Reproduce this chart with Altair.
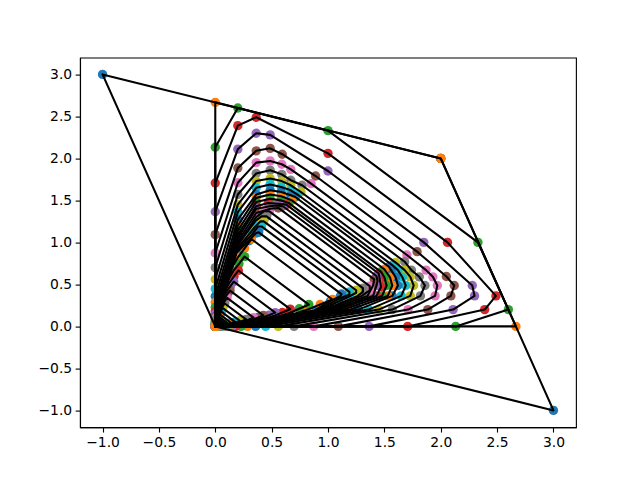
import altair as alt
import pandas as pd

# Each entry is one polygon's upper arm, from the y axis out to the tip.
# The polygons are mirror images across y = x, and each one closes through the origin.
upper_arms = [
    [(-1, 3), (2, 2)],
    [(0, 2.667), (2, 2)],
    [(0, 2.133), (0.2, 2.6), (1, 2.33)],
    [(0, 1.707), (0.2, 2.39), (0.363, 2.49), (1, 2.06)],
    [(0, 1.365), (0.2, 2.11), (0.363, 2.30), (0.487, 2.28), (1, 1.85)],
    [(0, 1.092), (0.2, 1.885), (0.363, 2.09), (0.487, 2.12), (0.594, 2.05), (0.89, 1.79)],
    [(0, 0.874), (0.2, 1.71), (0.363, 1.95), (0.487, 1.97), (0.59, 1.93), (0.67, 1.87), (0.85, 1.70)],
    [(0, 0.699), (0.2, 1.57), (0.363, 1.82), (0.487, 1.86), (0.59, 1.81), (0.67, 1.74), (0.77, 1.68)],
    [(0, 0.559), (0.2, 1.45), (0.363, 1.73), (0.487, 1.76), (0.59, 1.73), (0.67, 1.68), (0.76, 1.60)],
    [(0, 0.447), (0.2, 1.36), (0.363, 1.65), (0.487, 1.69), (0.585, 1.66), (0.67, 1.62), (0.73, 1.57)],
    [(0, 0.358), (0.2, 1.27), (0.363, 1.57), (0.487, 1.62), (0.585, 1.60), (0.67, 1.56), (0.71, 1.54)],
    [(0, 0.286), (0.2, 1.20), (0.363, 1.53), (0.487, 1.57), (0.585, 1.55), (0.68, 1.50)],
    [(0, 0.229), (0.2, 1.14), (0.363, 1.48), (0.487, 1.52), (0.585, 1.50), (0.65, 1.47)],
    [(0, 0.183), (0.2, 1.09), (0.363, 1.43), (0.47, 1.47), (0.56, 1.46), (0.63, 1.45)],
    [(0, 0.147), (0.2, 1.05), (0.363, 1.40), (0.487, 1.43), (0.54, 1.44), (0.60, 1.43)],
    [(0, 0.117), (0.2, 1.01), (0.363, 1.35), (0.487, 1.40), (0.56, 1.41)],
    [(0, 0.094), (0.2, 0.98), (0.363, 1.30), (0.43, 1.37), (0.48, 1.37)],
    [(0, 0.075), (0.19, 0.95), (0.36, 1.26), (0.41, 1.31), (0.455, 1.31)],
    [(0, 0.060), (0.19, 0.92), (0.35, 1.18), (0.40, 1.25), (0.43, 1.25)],
    [(0, 0.048), (0.19, 0.90), (0.33, 1.10), (0.38, 1.19), (0.41, 1.19)],
    [(0, 0.038), (0.19, 0.88), (0.30, 1.02), (0.36, 1.11), (0.385, 1.12)],
    [(0, 0.031), (0.13, 0.66), (0.2, 0.82), (0.26, 0.93), (0.32, 1.04)],
    [(0, 0.025), (0.104, 0.53), (0.16, 0.66), (0.21, 0.745), (0.26, 0.83)],
    [(0, 0.020), (0.083, 0.42), (0.128, 0.525), (0.166, 0.595), (0.205, 0.665)],
    [(0, 0.016), (0.067, 0.34), (0.102, 0.42), (0.133, 0.476), (0.164, 0.532)],
    [(0, 0.013), (0.053, 0.27), (0.082, 0.336), (0.106, 0.38), (0.131, 0.426)],
    [(0, 0.010), (0.043, 0.216), (0.066, 0.27), (0.085, 0.305), (0.105, 0.34)],
    [(0, 0.008), (0.034, 0.173), (0.052, 0.215), (0.068, 0.244), (0.084, 0.273)],
    [(0, 0.006), (0.027, 0.138), (0.042, 0.172), (0.055, 0.195), (0.067, 0.218)],
    [(0, 0.005), (0.022, 0.11), (0.034, 0.138), (0.044, 0.156), (0.054, 0.175)],
    [(0, 0.004), (0.018, 0.088), (0.027, 0.11), (0.035, 0.125), (0.043, 0.14)],
    [(0, 0.003), (0.016, 0.077), (0.027, 0.093), (0.036, 0.11)],
    [(0, 0.003), (0.013, 0.062), (0.021, 0.075), (0.029, 0.088)],
    [(0, 0.002), (0.010, 0.05), (0.017, 0.06), (0.023, 0.07)],
    [(0, 0.002), (0.008, 0.04), (0.014, 0.048), (0.018, 0.056)],
    [(0, 0.001), (0.007, 0.032), (0.011, 0.038), (0.015, 0.045)],
    [(0, 0.001), (0.005, 0.026), (0.009, 0.031), (0.012, 0.036)],
    [(0, 0.001), (0.004, 0.02), (0.007, 0.025), (0.01, 0.029)],
    [(0, 0.001), (0.003, 0.016), (0.006, 0.02), (0.008, 0.023)],
    [(0, 0.001), (0.003, 0.013), (0.005, 0.016), (0.006, 0.018)],
    [(0, 0.0), (0.002, 0.01), (0.004, 0.013), (0.005, 0.015)],
    [(0, 0.0), (0.002, 0.008), (0.003, 0.01), (0.004, 0.012)],
]
origin = (0, 0)
tab10 = ["#1f77b4", "#ff7f0e", "#2ca02c", "#d62728", "#9467bd",
         "#8c564b", "#e377c2", "#7f7f7f", "#bcbd22", "#17becf"]
tick_values = [-1.0, -0.5, 0.0, 0.5, 1.0, 1.5, 2.0, 2.5, 3.0]

rows = []
for level, arm in enumerate(upper_arms):
    mirrored = [(y, x) for x, y in reversed(arm)]
    polygon = arm + mirrored + [origin]
    for seq, (x, y) in enumerate(polygon + [polygon[0]]):
        rows.append({"x": x, "y": y, "level": level, "seq": seq,
                     "colour": tab10[level % 10],
                     "closing": seq == len(polygon)})
df = pd.DataFrame(rows)

x_enc = alt.X("x:Q", scale=alt.Scale(domain=[-1.2, 3.2], nice=False, zero=False),
              axis=alt.Axis(values=tick_values, format=".1f", title=None, grid=False))
y_enc = alt.Y("y:Q", scale=alt.Scale(domain=[-1.2, 3.2], nice=False, zero=False),
              axis=alt.Axis(values=tick_values, format=".1f", title=None, grid=False))

dots = (
    alt.Chart(df[~df["closing"]])
    .mark_circle(size=88, opacity=1)
    .encode(x=x_enc, y=y_enc, color=alt.Color("colour:N", scale=None, legend=None))
)
lines = (
    alt.Chart(df)
    .mark_line(color="black", strokeWidth=2.08, strokeJoin="round", strokeCap="round")
    .encode(x=x_enc, y=y_enc, detail="level:N", order="seq:Q")
)

chart = (
    alt.layer(dots, lines)
    .properties(
        width=496,
        height=369.6,
        autosize=alt.AutoSizeParams(type="none"),
        padding={"left": 72, "top": 49.6, "right": 56, "bottom": 44},
        background="white",
    )
    .configure_view(stroke="black", strokeWidth=1.11)
    .configure_axis(
        labelFont="DejaVu Sans",
        labelFontSize=13.89,
        labelColor="black",
        labelPadding=3.5,
        labelFlush=False,
        labelOverlap=False,
        tickSize=4.86,
        tickWidth=1.11,
        tickColor="black",
        domainColor="black",
        domainWidth=1.11,
    )
)
chart.save("out.html", embed_options={"renderer": "svg", "actions": False})
